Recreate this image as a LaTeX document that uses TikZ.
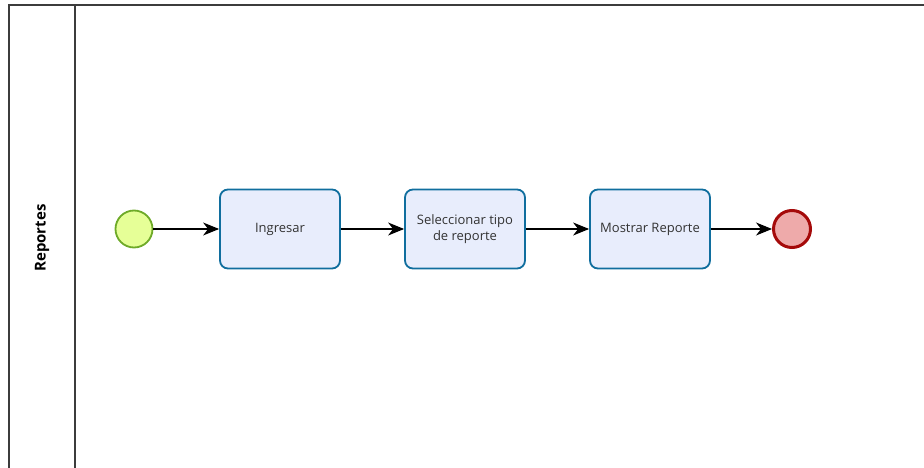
\documentclass[tikz,border=0pt]{standalone}
\usepackage{fontspec}
\setmainfont{Open Sans}
\usepackage{tikz}
\usetikzlibrary{arrows.meta}
\definecolor{startfill}{RGB}{230,255,151}
\definecolor{startline}{RGB}{110,170,40}
\definecolor{endfill}{RGB}{238,170,170}
\definecolor{endline}{RGB}{165,10,10}
\definecolor{taskfill}{RGB}{232,237,252}
\definecolor{taskline}{RGB}{16,110,158}
\definecolor{poolline}{RGB}{60,60,60}

\begin{document}
\begin{tikzpicture}[x=1pt, y=-1pt, node distance=185pt, font=\fontsize{13}{16}\selectfont,
    task/.style={rectangle, rounded corners=8pt, minimum width=120pt, minimum height=79pt, inner xsep=2pt, align=center, draw=taskline, line width=1.8pt, fill=taskfill, text=black!80},
    startev/.style={circle, minimum size=37pt, inner sep=0pt, draw=startline, line width=1.8pt, fill=startfill},
    endev/.style={circle, minimum size=37pt, inner sep=0pt, draw=endline, line width=3pt, fill=endfill},
    arrow/.style={line width=1.1pt, ->, >={Stealth[length=16pt,width=13pt,inset=5pt]}}]
    \useasboundingbox (0,0) rectangle (924,468);

    % pool y carril
    \draw [poolline, line width=1.5pt] (924,5) -- (9,5) -- (9,468);
    \draw [poolline, line width=1.5pt] (75,5) -- (75,468);
    \node [rotate=90, font=\fontsize{15}{18}\selectfont\bfseries] (lane) at (42,238) {Reportes};

    % nodos
    \node [startev] (inicio) at (134,229) {};
    \node [task] (ingresar) at (280,229) {Ingresar};
    \node [task, right of=ingresar] (seleccionar) {Seleccionar tipo\\de reporte};
    \node [task, right of=seleccionar] (mostrar) {Mostrar Reporte};
    \node [endev, right of=mostrar, node distance=142pt] (fin) {};

    % conexiones
    \draw [arrow] (inicio) -- (ingresar);
    \draw [arrow] (ingresar) -- (seleccionar);
    \draw [arrow] (seleccionar) -- (mostrar);
    \draw [arrow] (mostrar) -- (fin);
\end{tikzpicture}
\end{document}
